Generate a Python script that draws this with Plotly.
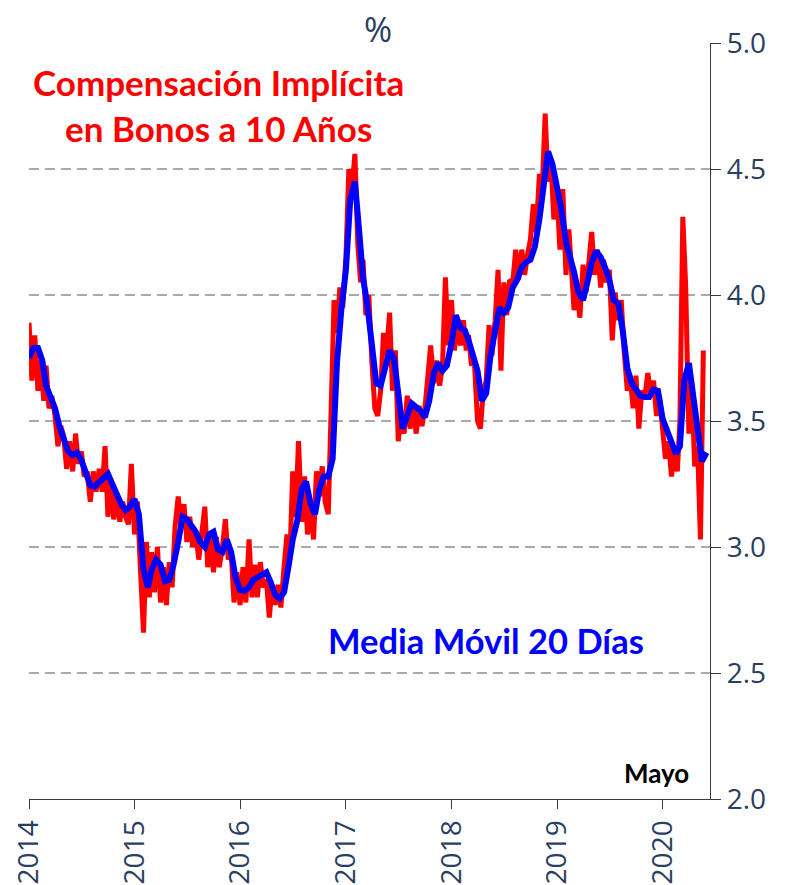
import plotly.graph_objects as go

# Breakeven inflation on 10-year bonds (%), sampled on days 1, 11 and 21 of each month
red_2014 = [3.89, 3.66, 3.84, 3.62, 3.74, 3.58, 3.72, 3.55, 3.60, 3.52, 3.40, 3.48,
            3.44, 3.31, 3.42, 3.30, 3.45, 3.33, 3.38, 3.28, 3.30, 3.18, 3.30, 3.22,
            3.31, 3.22, 3.40, 3.12, 3.26, 3.11, 3.20, 3.10, 3.18, 3.12, 3.09, 3.33]
red_2015 = [3.05, 3.18, 2.92, 2.66, 3.02, 2.80, 2.98, 2.82, 3.00, 2.78, 2.92, 2.77,
            2.94, 2.84, 3.08, 3.20, 3.08, 3.17, 3.02, 3.12, 3.00, 3.06, 2.95, 3.04,
            3.16, 2.92, 3.05, 2.90, 3.04, 2.92, 3.00, 3.11, 2.95, 2.98, 2.78, 2.90]
red_2016 = [2.77, 2.92, 2.78, 3.03, 2.80, 2.93, 2.80, 2.94, 2.84, 2.87, 2.72, 2.85,
            2.77, 2.85, 2.76, 2.92, 3.05, 2.95, 3.30, 3.12, 3.42, 3.10, 3.28, 3.05,
            3.16, 3.03, 3.30, 3.20, 3.32, 3.18, 3.13, 3.55, 3.98, 3.85, 4.03, 3.95]
red_2017 = [4.15, 4.50, 4.40, 4.56, 4.20, 4.05, 4.14, 3.92, 4.00, 3.73, 3.55, 3.52,
            3.62, 3.85, 3.76, 3.93, 3.62, 3.78, 3.42, 3.52, 3.45, 3.60, 3.47, 3.56,
            3.45, 3.56, 3.48, 3.55, 3.68, 3.80, 3.65, 3.74, 3.64, 3.72, 4.07, 3.80]
red_2018 = [3.98, 3.78, 3.90, 3.80, 3.90, 3.78, 3.84, 3.72, 3.74, 3.50, 3.47, 3.62,
            3.66, 3.88, 3.76, 3.90, 4.10, 3.70, 4.05, 3.92, 4.06, 4.05, 4.18, 4.06,
            4.18, 4.08, 4.16, 4.22, 4.36, 4.25, 4.48, 4.42, 4.72, 4.45, 4.53, 4.30]
red_2019 = [4.40, 4.18, 4.42, 4.08, 4.26, 4.05, 3.94, 4.02, 3.91, 4.12, 4.01, 4.13,
            4.25, 4.08, 4.18, 4.03, 4.14, 4.05, 4.10, 3.82, 4.01, 3.90, 3.98, 3.78,
            3.62, 3.68, 3.55, 3.68, 3.47, 3.62, 3.60, 3.69, 3.61, 3.66, 3.52, 3.60]
red_2020 = [3.45, 3.35, 3.42, 3.28, 3.40, 3.30, 3.50, 4.31, 4.03, 3.45, 3.65, 3.32,
            3.40, 3.03, 3.78]

# 20-day moving average (%), sampled on days 1 and 16 of each month
blue_2014 = [3.75, 3.79, 3.79, 3.74, 3.64, 3.60, 3.55, 3.48, 3.43, 3.38, 3.365, 3.375,
             3.345, 3.29, 3.245, 3.24, 3.255, 3.27, 3.29, 3.25, 3.20, 3.17, 3.146, 3.16]
blue_2015 = [3.19, 3.13, 2.91, 2.84, 2.91, 2.95, 2.93, 2.865, 2.87, 2.93, 3.02, 3.12,
             3.11, 3.085, 3.06, 3.02, 3.00, 3.05, 3.06, 2.99, 2.98, 3.03, 2.98, 2.88]
blue_2016 = [2.83, 2.826, 2.84, 2.87, 2.88, 2.885, 2.90, 2.86, 2.81, 2.795, 2.82, 2.92,
             3.03, 3.10, 3.23, 3.26, 3.17, 3.13, 3.23, 3.28, 3.28, 3.35, 3.73, 3.94]
blue_2017 = [4.10, 4.38, 4.45, 4.25, 4.07, 3.96, 3.80, 3.65, 3.64, 3.72, 3.78, 3.75,
             3.60, 3.47, 3.52, 3.57, 3.555, 3.54, 3.515, 3.58, 3.69, 3.73, 3.70, 3.72]
blue_2018 = [3.81, 3.92, 3.87, 3.86, 3.82, 3.77, 3.70, 3.58, 3.61, 3.76, 3.87, 3.95,
             3.93, 3.95, 4.03, 4.06, 4.11, 4.13, 4.14, 4.19, 4.30, 4.45, 4.57, 4.52]
blue_2019 = [4.43, 4.34, 4.21, 4.15, 4.09, 4.01, 3.98, 4.05, 4.13, 4.175, 4.15, 4.11,
             4.06, 3.98, 3.965, 3.86, 3.71, 3.65, 3.62, 3.60, 3.595, 3.595, 3.625, 3.62]
blue_2020 = [3.51, 3.46, 3.42, 3.37, 3.40, 3.66, 3.73, 3.60, 3.48, 3.34, 3.375]

years = [2014, 2015, 2016, 2017, 2018, 2019, 2020]
year_labels = ["2014", "2015", "2016", "2017", "2018", "2019", "2020"]
y_ticks = [2.0, 2.5, 3.0, 3.5, 4.0, 4.5, 5.0]

red_by_year = [red_2014, red_2015, red_2016, red_2017, red_2018, red_2019, red_2020]
blue_by_year = [blue_2014, blue_2015, blue_2016, blue_2017, blue_2018, blue_2019, blue_2020]


def sample_dates(year, days, n):
    out = []
    for m in range(1, 13):
        for d in days:
            out.append(f"{year}-{m:02d}-{d:02d}")
    return out[:n]


red_x, red_y, blue_x, blue_y = [], [], [], []
for yr, rv, bv in zip(years, red_by_year, blue_by_year):
    red_x += sample_dates(yr, (1, 11, 21), len(rv))
    red_y += rv
    blue_x += sample_dates(yr, (1, 16), len(bv))
    blue_y += bv

fig = go.Figure()
fig.add_trace(go.Scatter(x=red_x, y=red_y, mode="lines",
                         line=dict(color="#ff0000", width=5), showlegend=False))
fig.add_trace(go.Scatter(x=blue_x, y=blue_y, mode="lines",
                         line=dict(color="#0000ff", width=6), showlegend=False))

axis_col = "#3a3a3a"
tick_font = dict(family="Open Sans", size=28, color="#2a3f5f")

fig.update_layout(
    width=786, height=885,
    margin=dict(l=29, r=76, t=43, b=86),
    paper_bgcolor="white", plot_bgcolor="white",
    font=dict(family="Open Sans"),
    xaxis=dict(
        type="date", range=["2014-01-01", "2020-06-13"],
        tickvals=[f"{y}-01-01" for y in years], ticktext=year_labels,
        tickangle=-90, ticks="outside", ticklen=9, tickcolor=axis_col,
        showline=True, linecolor=axis_col, linewidth=1.3,
        showgrid=False, zeroline=False, tickfont=tick_font, automargin=False,
    ),
    yaxis=dict(
        side="right", range=[2, 5], tickvals=y_ticks, tickformat=".1f",
        ticks="outside", ticklen=10, tickcolor=axis_col,
        showline=True, linecolor=axis_col, linewidth=1.3,
        showgrid=True, gridcolor="#aaaaaa", gridwidth=1.5, griddash="10px,6px",
        zeroline=False, tickfont=tick_font, automargin=False,
    ),
)

title_font = dict(family="Lato", size=35, color="#ff0000")
fig.add_annotation(text="<b>Compensación Implícita</b>", xref="paper", yref="paper",
                   x=0.278, y=0.948, xanchor="center", yanchor="middle",
                   showarrow=False, font=title_font)
fig.add_annotation(text="<b>en Bonos a 10 Años</b>", xref="paper", yref="paper",
                   x=0.278, y=0.8876, xanchor="center", yanchor="middle",
                   showarrow=False, font=title_font)
fig.add_annotation(text="<b>Media Móvil 20 Días</b>", xref="paper", yref="paper",
                   x=0.6718, y=0.2103, xanchor="center", yanchor="middle",
                   showarrow=False, font=dict(family="Lato", size=34.5, color="#0000ff"))
fig.add_annotation(text="<b>Mayo</b>", xref="paper", yref="paper",
                   x=0.922, y=0.0344, xanchor="center", yanchor="middle",
                   showarrow=False, font=dict(family="Lato", size=26, color="#000000"))
fig.add_annotation(text="%", xref="paper", yref="paper",
                   x=0.5125, y=1.019, xanchor="center", yanchor="middle",
                   showarrow=False, font=dict(family="Open Sans", size=34, color="#2a3f5f"))

fig.write_html("out.html")
